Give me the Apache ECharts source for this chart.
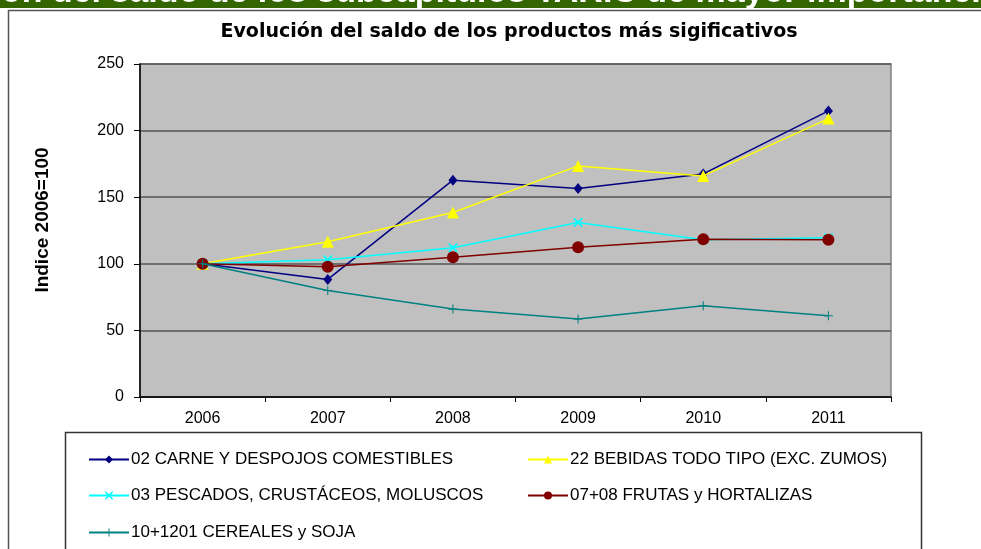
<html>

<head>
  <meta charset="utf-8">
  <script src="https://cdnjs.cloudflare.com/ajax/libs/echarts/6.0.0/echarts.min.js"></script>
  <title>Evolución del saldo</title>
</head>

<body style="margin: 0; overflow: hidden; background: #fff;">
  <div id="main" style="width: 981px; height: 549px;"></div>
  <script>
    var years = ['2006', '2007', '2008', '2009', '2010', '2011'];
    var yTicks = [0, 50, 100, 150, 200, 250];

    var carne = [100, 88.3, 162.8, 156.5, 167.5, 214.8];
    var bebidas = [100, 116.5, 138.5, 173.5, 166, 209];
    var pescados = [100, 103, 112, 131, 118, 119.5];
    var frutas = [100, 97.8, 105, 112.5, 118.5, 118];
    var cereales = [100, 80, 66, 58.5, 68.5, 61];

    var names = [
      '02 CARNE Y DESPOJOS COMESTIBLES',
      '22 BEBIDAS TODO TIPO (EXC. ZUMOS)',
      '03 PESCADOS, CRUSTÁCEOS, MOLUSCOS',
      '07+08 FRUTAS y HORTALIZAS',
      '10+1201 CEREALES y SOJA'
    ];
    var colors = ['#000080', '#ffff00', '#00ffff', '#800000', '#008080'];

    // cross shapes built as thin polygons so they can be filled
    var xMark = 'path://M0,0L1.4,0L5,3.6L8.6,0L10,0L10,1.4L6.4,5L10,8.6L10,10L8.6,10L5,6.4L1.4,10L0,10L0,8.6L3.6,5L0,1.4Z';
    var plusMark = 'path://M4.4,0H5.6V4.4H10V5.6H5.6V10H4.4V5.6H0V4.4H4.4Z';

    var myChart = echarts.init(document.getElementById('main'));

    function line(i, data, symbol, size) {
      return {
        name: names[i],
        type: 'line',
        data: data,
        symbol: symbol,
        symbolSize: size,
        color: colors[i],
        lineStyle: { width: 1.5, color: colors[i] },
        itemStyle: { color: colors[i] },
        emphasis: { disabled: true },
        z: 3 + i
      };
    }

    var legendPos = [
      [88, 451], [527, 451], [88, 487], [527, 487], [88, 524]
    ];
    var legends = [];
    for (let i = 0; i < names.length; ++i) {
      legends.push({
        data: [names[i]],
        left: legendPos[i][0],
        top: legendPos[i][1],
        itemWidth: 40,
        itemHeight: 10,
        padding: 0,
        selectedMode: false,
        textStyle: { fontFamily: 'Liberation Sans, Arial', fontSize: 17, color: '#000', padding: [0, 0, 0, -3] }
      });
    }

    var option = {
      animation: false,
      title: {
        text: 'Evolución del saldo de los productos más sigificativos',
        left: 504,
        textAlign: 'center',
        top: 18,
        textStyle: { fontFamily: 'DejaVu Sans', fontSize: 19, fontWeight: 'bold', color: '#000' }
      },
      legend: legends,
      grid: {
        left: 140, right: 90, top: 64, bottom: 152,
        show: true,
        backgroundColor: '#c0c0c0',
        borderColor: '#808080',
        borderWidth: 1.5
      },
      graphic: [
        {
          type: 'rect', left: 0, top: 0, z: -1,
          shape: { width: 981, height: 8 },
          style: { fill: '#336600' }
        },
        {
          type: 'text', x: -120, y: -24, z: 0,
          style: {
            text: 'Evolución del saldo de los subcapítulos TARIC de mayor importancia en el comercio',
            fill: '#fff', font: 'bold 34px Liberation Sans, Arial'
          }
        },
        {
          type: 'rect', z: -1,
          shape: { x: 8.5, y: 10.5, width: 990, height: 560 },
          style: { fill: 'none', stroke: '#555', lineWidth: 1.5 }
        },
        {
          type: 'rect', z: -1,
          shape: { x: 65.5, y: 432.5, width: 856, height: 130 },
          style: { fill: 'none', stroke: '#333', lineWidth: 1.5 }
        },
        {
          type: 'text', x: 43, y: 220, rotation: Math.PI / 2,
          style: {
            text: 'Indice 2006=100',
            align: 'center', verticalAlign: 'middle',
            fill: '#000', font: 'bold 19px Liberation Sans, Arial'
          }
        }
      ],
      xAxis: {
        type: 'category',
        data: years,
        boundaryGap: true,
        axisLine: { lineStyle: { color: '#000', width: 1.5 } },
        axisTick: { show: true, interval: 0, length: 5, lineStyle: { color: '#000' } },
        axisLabel: { fontFamily: 'Liberation Sans, Arial', fontSize: 16, color: '#000', margin: 14 },
        splitLine: { show: false }
      },
      yAxis: {
        type: 'value',
        min: yTicks[0],
        max: yTicks[yTicks.length - 1],
        interval: 50,
        axisLine: { show: true, lineStyle: { color: '#000', width: 1.5 } },
        axisTick: { show: true, length: 6, lineStyle: { color: '#000' } },
        axisLabel: { fontFamily: 'Liberation Sans, Arial', fontSize: 16, color: '#000', margin: 16 },
        splitLine: { show: true, lineStyle: { color: '#555', width: 1.5 } }
      },
      series: [
        line(0, carne, 'diamond', [9, 11]),
        line(1, bebidas, 'triangle', 12),
        line(2, pescados, xMark, 9),
        line(3, frutas, 'circle', 12),
        line(4, cereales, plusMark, 9)
      ]
    };

    myChart.setOption(option);
  </script>
</body>

</html>
